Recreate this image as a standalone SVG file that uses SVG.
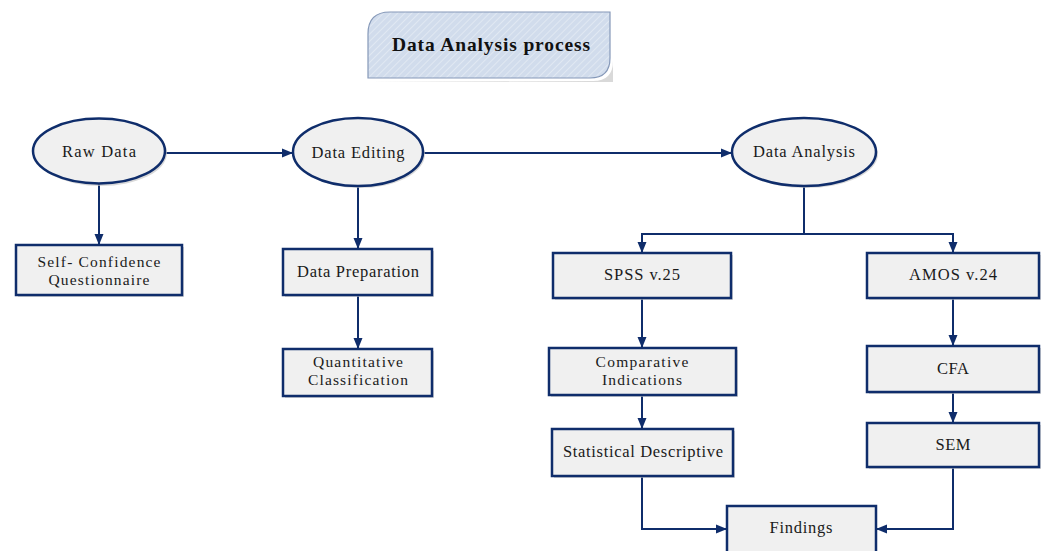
<svg xmlns="http://www.w3.org/2000/svg" width="1045" height="551" viewBox="0 0 1045 551">
<defs>
<style>
.box{fill:#f0f0f0;stroke:#0f2d6b;stroke-width:2.5}
.sh{fill:#c9c9c9;opacity:0.7}
.t{font-family:"Liberation Serif","Times New Roman",serif;font-size:16.5px;fill:#1a1a1a;text-anchor:middle}
.t2{font-size:15.5px}
.c{fill:none;stroke:#0f2d6b;stroke-width:2}
</style>
<marker id="ah" markerUnits="userSpaceOnUse" markerWidth="12" markerHeight="10" refX="11" refY="5" orient="auto">
<path d="M0,0.5 L11,5 L0,9.5 z" fill="#0f2d6b"/>
</marker>
<pattern id="hatch" patternUnits="userSpaceOnUse" width="5" height="5" patternTransform="rotate(45)">
<rect width="5" height="5" fill="#d1dcec"/>
<line x1="0" y1="0" x2="0" y2="5" stroke="#e6ecf5" stroke-width="1.5"/>
</pattern>
</defs>
<rect width="1045" height="551" fill="#ffffff"/>

<g id="title">
<path d="M371,82 H613 V61 Q613,81 593,81 Z" class="sh"/>
<path d="M390,12 H610 V58 Q610,78 590,78 H368 V34 Q368,12 390,12 Z" fill="url(#hatch)" stroke="#8598b8" stroke-width="1.2"/>
<text x="491" y="51" font-family="'Liberation Serif','Times New Roman',serif" font-size="19.5" font-weight="bold" text-anchor="middle" fill="#111" textLength="198" lengthAdjust="spacing">Data Analysis process</text>
</g>

<g id="connectors">
<path class="c" d="M165,153 H293" marker-end="url(#ah)"/>
<path class="c" d="M423,153 H732" marker-end="url(#ah)"/>
<path class="c" d="M99,183 V245" marker-end="url(#ah)"/>
<path class="c" d="M358,186 V249" marker-end="url(#ah)"/>
<path class="c" d="M358,295 V349" marker-end="url(#ah)"/>
<path class="c" d="M804,186 V234 H642 V253" marker-end="url(#ah)"/>
<path class="c" d="M804,234 H953 V253" marker-end="url(#ah)"/>
<path class="c" d="M642,298 V348" marker-end="url(#ah)"/>
<path class="c" d="M642,395 V429" marker-end="url(#ah)"/>
<path class="c" d="M642,476 V529 H727" marker-end="url(#ah)"/>
<path class="c" d="M953,298 V346" marker-end="url(#ah)"/>
<path class="c" d="M953,392 V423" marker-end="url(#ah)"/>
<path class="c" d="M953,467 V529 H876" marker-end="url(#ah)"/>
</g>

<g id="raw-data">
<ellipse cx="101" cy="153" rx="66" ry="33" class="sh"/>
<ellipse cx="99" cy="151" rx="66" ry="32.5" class="box"/>
<text x="99" y="157" class="t" textLength="74" lengthAdjust="spacing">Raw Data</text>
</g>

<g id="data-editing">
<ellipse cx="360" cy="154" rx="65" ry="34" class="sh"/>
<ellipse cx="358" cy="152" rx="65" ry="34" class="box"/>
<text x="358" y="158" class="t" textLength="93" lengthAdjust="spacing">Data Editing</text>
</g>

<g id="data-analysis">
<ellipse cx="806" cy="154" rx="72" ry="34" class="sh"/>
<ellipse cx="804" cy="152" rx="72" ry="34" class="box"/>
<text x="804" y="157" class="t" textLength="102" lengthAdjust="spacing">Data Analysis</text>
</g>

<g id="self-confidence">
<rect x="18" y="247" width="166" height="50" class="sh"/>
<rect x="16" y="245" width="166" height="50" class="box"/>
<text x="99" y="267" class="t t2" textLength="123" lengthAdjust="spacing">Self- Confidence</text>
<text x="99" y="285" class="t t2" textLength="101" lengthAdjust="spacing">Questionnaire</text>
</g>

<g id="data-preparation">
<rect x="285" y="251" width="149" height="46" class="sh"/>
<rect x="283" y="249" width="149" height="46" class="box"/>
<text x="358" y="277" class="t" textLength="122" lengthAdjust="spacing">Data Preparation</text>
</g>

<g id="quantitative">
<rect x="285" y="351" width="149" height="47" class="sh"/>
<rect x="283" y="349" width="149" height="47" class="box"/>
<text x="358" y="367" class="t t2" textLength="90" lengthAdjust="spacing">Quantitative</text>
<text x="358" y="385" class="t t2" textLength="100" lengthAdjust="spacing">Classification</text>
</g>

<g id="spss">
<rect x="555" y="255" width="178" height="45" class="sh"/>
<rect x="553" y="253" width="178" height="45" class="box"/>
<text x="642" y="280" class="t" textLength="76" lengthAdjust="spacing">SPSS v.25</text>
</g>

<g id="comparative">
<rect x="551" y="350" width="187" height="47" class="sh"/>
<rect x="549" y="348" width="187" height="47" class="box"/>
<text x="642" y="367" class="t t2" textLength="93" lengthAdjust="spacing">Comparative</text>
<text x="642" y="385" class="t t2" textLength="80" lengthAdjust="spacing">Indications</text>
</g>

<g id="statistical">
<rect x="554" y="431" width="181" height="47" class="sh"/>
<rect x="552" y="429" width="181" height="47" class="box"/>
<text x="643" y="457" class="t" textLength="160" lengthAdjust="spacing">Statistical Descriptive</text>
</g>

<g id="amos">
<rect x="869" y="255" width="172" height="45" class="sh"/>
<rect x="867" y="253" width="172" height="45" class="box"/>
<text x="953" y="280" class="t" textLength="88" lengthAdjust="spacing">AMOS v.24</text>
</g>

<g id="cfa">
<rect x="869" y="348" width="172" height="46" class="sh"/>
<rect x="867" y="346" width="172" height="46" class="box"/>
<text x="953" y="374" class="t" textLength="32" lengthAdjust="spacing">CFA</text>
</g>

<g id="sem">
<rect x="869" y="425" width="172" height="44" class="sh"/>
<rect x="867" y="423" width="172" height="44" class="box"/>
<text x="953" y="450" class="t" textLength="35" lengthAdjust="spacing">SEM</text>
</g>

<g id="findings">
<rect x="727" y="506" width="149" height="60" class="box"/>
<text x="801" y="533" class="t" textLength="63" lengthAdjust="spacing">Findings</text>
</g>
</svg>
